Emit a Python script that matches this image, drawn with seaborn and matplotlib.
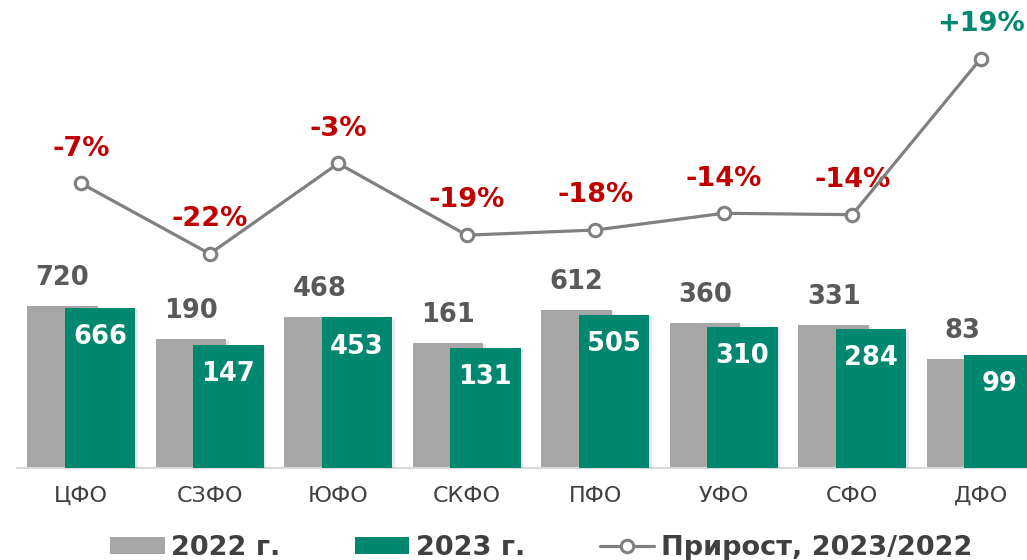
import pandas as pd
import numpy as np
import matplotlib
matplotlib.use("Agg")
import matplotlib.pyplot as plt
import matplotlib.patheffects as pe
from matplotlib.lines import Line2D
from matplotlib.patches import Patch
import seaborn as sns

# data
districts = ["ЦФО", "СЗФО", "ЮФО", "СКФО", "ПФО", "УФО", "СФО", "ДФО"]
values_2022 = [720, 190, 468, 161, 612, 360, 331, 83]
values_2023 = [666, 147, 453, 131, 505, 310, 284, 99]
growth = [-7.5, -22.6, -3.2, -18.6, -17.5, -13.9, -14.2, 19.3]
growth_labels = ["-7%", "-22%", "-3%", "-19%", "-18%", "-14%", "-14%", "+19%"]

grey = "#A6A6A6"
teal = "#00876F"
red = "#C00000"
text_col = "#404040"

sns.set_style("white")
plt.rcParams["font.family"] = ["DejaVu Sans"]

idx = np.arange(len(districts))
shift = 0.145
df = pd.DataFrame({
    "pos_2022": idx - shift,
    "pos_2023": idx + shift,
    "v2022": values_2022,
    "v2023": values_2023,
    "pos": idx,
    "growth": growth,
})

fig = plt.figure(figsize=(10.27, 5.6), dpi=100)
ax = fig.add_axes([17 / 1027, 92 / 560, 1010 / 1027, 468 / 560])
ax.set_yscale("log")

sns.barplot(data=df, x="pos_2022", y="v2022", native_scale=True, color=grey,
            width=0.55, saturation=1, ax=ax, zorder=2)
sns.barplot(data=df, x="pos_2023", y="v2023", native_scale=True, color=teal,
            width=0.55, saturation=1, ax=ax, zorder=3)
for b in ax.patches:
    b.set_linewidth(0)
    b.set_path_effects([pe.SimplePatchShadow(offset=(2, -1), alpha=0.1), pe.Normal()])

ax.set_ylim(1, 10 ** 8.254)
ax.set_xlim(-0.5, -0.5 + 1010 / 128.5)
ax.set_xticks(idx)
ax.set_xticklabels(districts, fontsize=16, color=text_col)
ax.tick_params(axis="x", length=0, pad=13)
ax.set_yticks([])
ax.yaxis.set_minor_locator(matplotlib.ticker.NullLocator())
ax.set_xlabel("")
ax.set_ylabel("")
for s in ["top", "right", "left"]:
    ax.spines[s].set_visible(False)
ax.spines["bottom"].set_color("#D9D9D9")
ax.spines["bottom"].set_linewidth(1.5)

for i in idx:
    ax.annotate(str(values_2022[i]), (i - shift, values_2022[i]), xytext=(0, 20),
                textcoords="offset points", ha="center", va="center",
                fontsize=18.5, fontweight="bold", color="#595959")
    ax.annotate(str(values_2023[i]), (i + shift, values_2023[i]), xytext=(0, -21),
                textcoords="offset points", ha="center", va="center",
                fontsize=18.5, fontweight="bold", color="white")

ax2 = ax.twinx()
sns.lineplot(data=df, x="pos", y="growth", ax=ax2, color="#808080", linewidth=2.3,
             marker="o", markersize=9, markerfacecolor="white",
             markeredgecolor="#808080", markeredgewidth=2.2, zorder=5)
ax2.set_ylim(-68.6, 31.9)
ax2.set_yticks([])
ax2.set_ylabel("")
ax2.set_xlabel("")
for s in ["top", "right", "left", "bottom"]:
    ax2.spines[s].set_visible(False)

for i in idx:
    ax2.annotate(growth_labels[i], (i, growth[i]), xytext=(0, 25),
                 textcoords="offset points", ha="center", va="center",
                 fontsize=19.5, fontweight="bold",
                 color=teal if growth[i] > 0 else red)

handles = [
    Patch(facecolor=grey, edgecolor="none", label="2022 г."),
    Patch(facecolor=teal, edgecolor="none", label="2023 г."),
    Line2D([0], [0], color="#808080", linewidth=2.3, marker="o", markersize=9,
           markerfacecolor="white", markeredgecolor="#808080", markeredgewidth=2.2,
           label="Прирост, 2023/2022"),
]
leg = fig.legend(handles=handles, loc="lower center", ncol=3, frameon=False,
                 bbox_to_anchor=(0.527, -0.045), handlelength=2.0, handleheight=0.6,
                 handletextpad=0.25, columnspacing=2.75,
                 prop={"size": 19.5, "weight": "bold"})
for t in leg.get_texts():
    t.set_color(text_col)

fig.savefig("out.png", dpi=100)
